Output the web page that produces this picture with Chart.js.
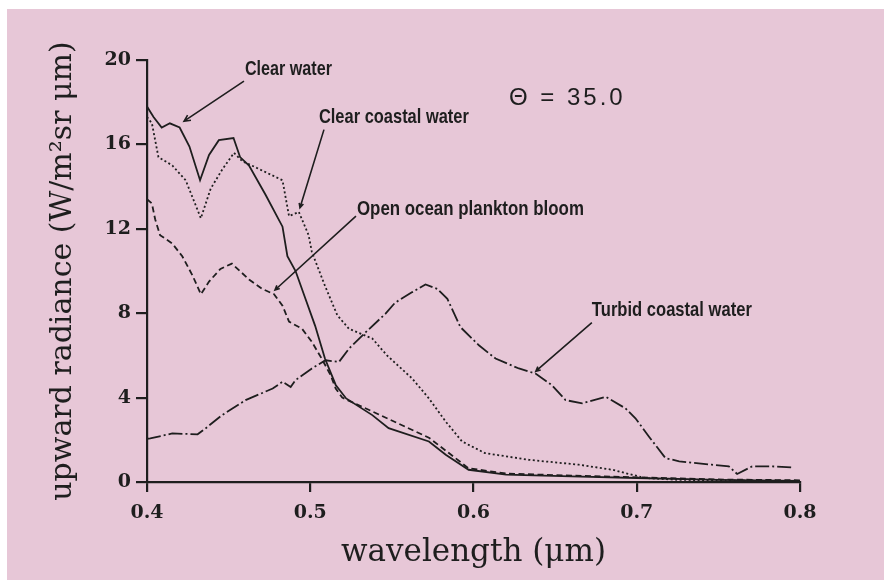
<!DOCTYPE html>
<html>
<head>
<meta charset="utf-8">
<script src="https://cdn.jsdelivr.net/npm/chart.js@4"></script>
<style>
  html, body { margin: 0; padding: 0; background: #fff; }
  #chart { display: block; }
</style>
</head>
<body>
<canvas id="chart" width="884" height="580"></canvas>
<script>
// wavelength (um) / upward radiance
const clearWaterWl = [0.400, 0.404, 0.409, 0.414, 0.420, 0.426, 0.4325, 0.438, 0.444, 0.453, 0.457, 0.4625, 0.4727, 0.483, 0.486, 0.491, 0.497, 0.503, 0.509, 0.5156, 0.522, 0.538, 0.548, 0.5727, 0.583, 0.597, 0.620, 0.660, 0.700, 0.750, 0.800];
const clearWaterVal = [17.8, 17.3, 16.8, 17.0, 16.8, 15.9, 14.3, 15.5, 16.2, 16.3, 15.4, 15.0, 13.6, 12.1, 10.7, 10.0, 8.7, 7.4, 5.85, 4.6, 3.96, 3.17, 2.55, 1.92, 1.29, 0.58, 0.35, 0.27, 0.19, 0.1, 0.05];

const coastalWl = [0.400, 0.403, 0.407, 0.4155, 0.4237, 0.433, 0.439, 0.446, 0.4533, 0.4584, 0.4655, 0.483, 0.487, 0.493, 0.499, 0.501, 0.509, 0.5166, 0.5237, 0.538, 0.547, 0.5625, 0.5727, 0.583, 0.593, 0.607, 0.634, 0.6645, 0.685, 0.705, 0.726, 0.800];
const coastalVal = [17.3, 17.0, 15.4, 15.0, 14.3, 12.5, 13.9, 14.8, 15.6, 15.2, 14.95, 14.3, 12.6, 12.8, 11.7, 10.9, 9.3, 7.9, 7.26, 6.8, 6.0, 4.9, 3.96, 2.86, 1.92, 1.37, 1.05, 0.82, 0.58, 0.19, 0.1, 0.05];

const bloomWl = [0.400, 0.403, 0.405, 0.408, 0.4155, 0.4216, 0.4278, 0.433, 0.438, 0.445, 0.452, 0.4625, 0.4706, 0.4778, 0.483, 0.487, 0.495, 0.501, 0.507, 0.5125, 0.5156, 0.5196, 0.542, 0.5727, 0.597, 0.620, 0.660, 0.700, 0.750, 0.800];
const bloomVal = [13.4, 13.2, 12.45, 11.7, 11.3, 10.7, 9.8, 8.9, 9.5, 10.1, 10.35, 9.6, 9.15, 8.9, 8.36, 7.6, 7.26, 6.64, 5.85, 5.06, 4.43, 4.0, 3.2, 2.1, 0.65, 0.4, 0.3, 0.22, 0.12, 0.08];

const turbidWl = [0.400, 0.402, 0.4155, 0.431, 0.436, 0.446, 0.4604, 0.477, 0.483, 0.488, 0.491, 0.501, 0.5094, 0.5176, 0.5237, 0.534, 0.546, 0.552, 0.5625, 0.5706, 0.5778, 0.584, 0.592, 0.6033, 0.6135, 0.6278, 0.638, 0.648, 0.6564, 0.6666, 0.681, 0.6931, 0.6992, 0.7074, 0.7176, 0.726, 0.746, 0.7564, 0.7615, 0.7707, 0.783, 0.796];
const turbidVal = [2.05, 2.07, 2.3, 2.26, 2.55, 3.17, 3.88, 4.43, 4.75, 4.5, 4.83, 5.38, 5.77, 5.69, 6.32, 7.1, 7.97, 8.5, 9.0, 9.36, 9.15, 8.68, 7.34, 6.48, 5.85, 5.38, 5.14, 4.59, 3.88, 3.73, 4.04, 3.49, 3.02, 2.16, 1.13, 0.98, 0.82, 0.74, 0.38, 0.74, 0.74, 0.69];

const xTicks = [0.4, 0.5, 0.6, 0.7, 0.8];
const yTicks = [0, 4, 8, 12, 16, 20];

// curve labels with their pointer lines, in data units
const notes = [
  { text: 'Clear water', x: 0.460, y: 19.55, w: 87, from: [0.4594, 19.0], to: [0.4227, 17.1], head: 7 },
  { text: 'Clear coastal water', x: 0.5053, y: 17.3, w: 150, from: [0.5084, 16.7], to: [0.4937, 13.0], head: 5 },
  { text: 'Open ocean plankton bloom', x: 0.5286, y: 12.95, w: 227, from: [0.528, 12.6], to: [0.4784, 9.1], head: 5 },
  { text: 'Turbid coastal water', x: 0.6725, y: 8.15, w: 160, from: [0.6725, 7.55], to: [0.6382, 5.25], head: 5 }
];
const thetaNote = { text: 'Θ = 35.0', x: 0.6217, y: 18.2 };

const ink = '#1e1e1e';
const pts = (xs, ys) => xs.map((x, i) => ({ x: x, y: ys[i] }));

const paper = {
  id: 'paper',
  beforeDraw(chart) {
    const ctx = chart.ctx;
    const w = ctx.canvas.width, h = ctx.canvas.height;
    ctx.save();
    ctx.fillStyle = '#ffffff';
    ctx.fillRect(0, 0, w, h);
    ctx.fillStyle = 'rgb(231,199,215)';
    ctx.fillRect(7, 9, w - 7, h - 9);
    ctx.restore();
  }
};

const labels = {
  id: 'labels',
  afterDraw(chart) {
    const ctx = chart.ctx;
    const sx = chart.scales.x, sy = chart.scales.y;
    ctx.save();
    ctx.fillStyle = ink;
    ctx.strokeStyle = ink;
    ctx.lineWidth = 1.6;
    ctx.textBaseline = 'middle';
    ctx.textAlign = 'left';
    notes.forEach(n => {
      const px = sx.getPixelForValue(n.x), py = sy.getPixelForValue(n.y);
      ctx.font = 'bold 21px "Liberation Sans"';
      const k = n.w / ctx.measureText(n.text).width;
      ctx.save();
      ctx.translate(px, py);
      ctx.scale(k, 1);
      ctx.fillText(n.text, 0, 0);
      ctx.restore();

      const x1 = sx.getPixelForValue(n.from[0]), y1 = sy.getPixelForValue(n.from[1]);
      const x2 = sx.getPixelForValue(n.to[0]), y2 = sy.getPixelForValue(n.to[1]);
      ctx.beginPath();
      ctx.moveTo(x1, y1);
      ctx.lineTo(x2, y2);
      const a = Math.atan2(y2 - y1, x2 - x1);
      ctx.moveTo(x2 - n.head * Math.cos(a - 0.45), y2 - n.head * Math.sin(a - 0.45));
      ctx.lineTo(x2, y2);
      ctx.lineTo(x2 - n.head * Math.cos(a + 0.45), y2 - n.head * Math.sin(a + 0.45));
      ctx.stroke();
    });
    ctx.font = '24px "Liberation Sans"';
    ctx.letterSpacing = '3px';
    ctx.fillText(thetaNote.text, sx.getPixelForValue(thetaNote.x), sy.getPixelForValue(thetaNote.y));
    ctx.restore();
  }
};

const line = (data, dash) => ({
  data: data,
  borderColor: ink,
  borderWidth: 1.8,
  borderDash: dash,
  pointRadius: 0,
  fill: false,
  tension: 0
});

new Chart(document.getElementById('chart'), {
  type: 'line',
  data: {
    datasets: [
      line(pts(clearWaterWl, clearWaterVal), []),
      line(pts(coastalWl, coastalVal), [2, 2.5]),
      line(pts(bloomWl, bloomVal), [6, 3.5]),
      line(pts(turbidWl, turbidVal), [14, 3, 2, 3])
    ]
  },
  options: {
    responsive: false,
    devicePixelRatio: 1,
    animation: false,
    layout: { padding: { top: 60, right: 84, left: 45, bottom: 0 } },
    plugins: { legend: { display: false }, tooltip: { enabled: false } },
    scales: {
      x: {
        type: 'linear',
        min: 0.4,
        max: 0.8,
        afterBuildTicks: s => { s.ticks = xTicks.map(v => ({ value: v })); },
        afterFit: s => { s.height = 98; },
        grid: { drawOnChartArea: false, drawTicks: true, tickLength: 10, color: ink, lineWidth: 2.2 },
        border: { display: true, color: ink, width: 2.2 },
        ticks: {
          color: ink,
          maxRotation: 0,
          autoSkip: false,
          padding: 10,
          font: { family: 'DejaVu Serif', size: 19, weight: 'bold' },
          callback: v => v.toFixed(1)
        },
        title: {
          display: true,
          text: 'wavelength (μm)',
          color: ink,
          font: { family: 'DejaVu Serif', size: 31 },
          padding: { top: 0, bottom: 8 }
        }
      },
      y: {
        min: 0,
        max: 20,
        afterBuildTicks: s => { s.ticks = yTicks.map(v => ({ value: v })); },
        afterFit: s => { s.width = 102; },
        grid: { drawOnChartArea: false, drawTicks: true, tickLength: 11, color: ink, lineWidth: 2.2 },
        border: { display: true, color: ink, width: 2.2 },
        ticks: {
          color: ink,
          padding: 5,
          font: { family: 'DejaVu Serif', size: 19, weight: 'bold' }
        },
        title: {
          display: true,
          text: 'upward radiance (W/m²sr μm)',
          color: ink,
          font: { family: 'DejaVu Serif', size: 30 },
          padding: 0
        }
      }
    }
  },
  plugins: [paper, labels]
});
</script>
</body>
</html>
